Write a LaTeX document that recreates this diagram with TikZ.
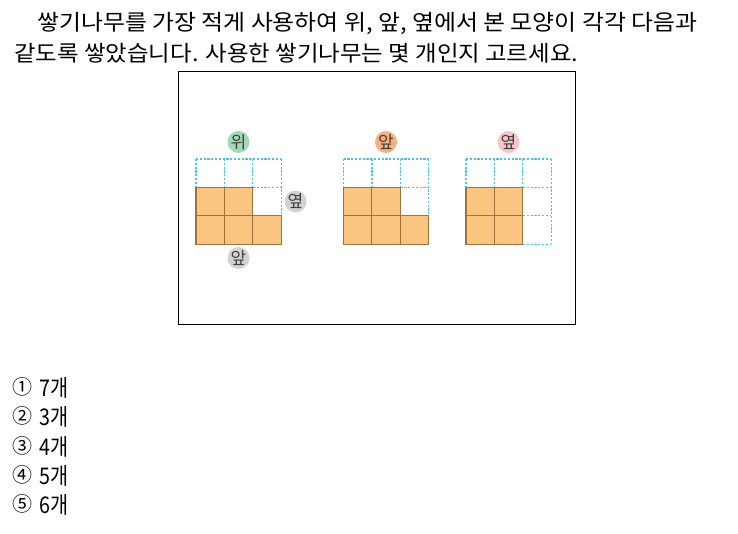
\documentclass[tikz,border=0pt]{standalone}
\usepackage{fontspec}
\usepackage{graphicx}
\setmainfont{Noto Sans CJK KR}
\definecolor{cellfill}{HTML}{FAC481}
\definecolor{celledge}{HTML}{A0733C}
\definecolor{gridcyan}{HTML}{45C6F2}
\definecolor{lblgreen}{HTML}{A3D9B5}
\definecolor{lblorange}{HTML}{F8B07C}
\definecolor{lblpink}{HTML}{F8C3CA}
\definecolor{lblgray}{HTML}{D2D2D4}
\tikzset{
  gridline/.style={draw=gridcyan,dash pattern=on 2.2pt off 1.6pt,line width=1.3pt},
  cellbox/.style={fill=cellfill,draw=celledge,line width=1.1pt},
  lbl/.style={circle,minimum size=22pt,inner sep=0pt,font=\fontsize{17}{17}\selectfont,text=black!75},
  textline/.style={anchor=west,inner sep=0pt,font=\fontsize{22}{22}\selectfont},
  circnum/.style={anchor=center,inner sep=0pt,font=\fontsize{20}{20}\selectfont},
  answer/.style={anchor=west,inner sep=0pt,font=\fontsize{23}{23}\selectfont}
}
\newcommand{\cellsz}{28.4}
\begin{document}
\begin{tikzpicture}[x=1pt,y=-1pt]
\useasboundingbox (0,0) rectangle (738,534);
% question text
\node[textline] (q1) at (37,23) {\resizebox{660pt}{\height}{쌓기나무를 가장 적게 사용하여 위, 앞, 옆에서 본 모양이 각각 다음과}};
\node[textline] (q2) at (14,53) {\resizebox{564pt}{\height}{같도록 쌓았습니다. 사용한 쌓기나무는 몇 개인지 고르세요.}};
% frame
\draw[line width=0.8pt] (178,71) rectangle (575,324);
% grids
\foreach \gx in {196,343.5,466}{
  \foreach \k in {0,1,2,3}{
    \draw[gridline] ({\gx},{159+\k*\cellsz}) -- ++({3*\cellsz},0);
    \draw[gridline] ({\gx+\k*\cellsz},159) -- ++(0,{3*\cellsz});
  }
}
% orange cells: grid 1 and 2
\foreach \gx in {196,343.5}{
  \foreach \i/\j in {0/1,1/1,0/2,1/2,2/2}{
    \draw[cellbox] ({\gx+\i*\cellsz},{159+\j*\cellsz}) rectangle ++(\cellsz,\cellsz);
  }
}
% grid 3
\foreach \i/\j in {0/1,1/1,0/2,1/2}{
  \draw[cellbox] ({466+\i*\cellsz},{159+\j*\cellsz}) rectangle ++(\cellsz,\cellsz);
}
% labels
\node[lbl,fill=lblgreen] (top1) at (238.5,142) {위};
\node[lbl,fill=lblgray] (side1) at (295.5,201.5) {옆};
\node[lbl,fill=lblgray] (front1) at (238.5,258) {앞};
\node[lbl,fill=lblorange] (front2) at (386,142) {앞};
\node[lbl,fill=lblpink] (side3) at (508.5,142) {옆};
% answers
\foreach \k/\cn/\vv in {0/①/7,1/②/3,2/③/4,3/④/5,4/⑤/6}{
  \node[circnum] (c\k) at (22.5,{387+\k*29.3}) {{\cn}};
  \node[answer] (a\k) at (39,{388+\k*29.3}) {\resizebox{29pt}{\height}{{\vv}개}};
}
\end{tikzpicture}
\end{document}
